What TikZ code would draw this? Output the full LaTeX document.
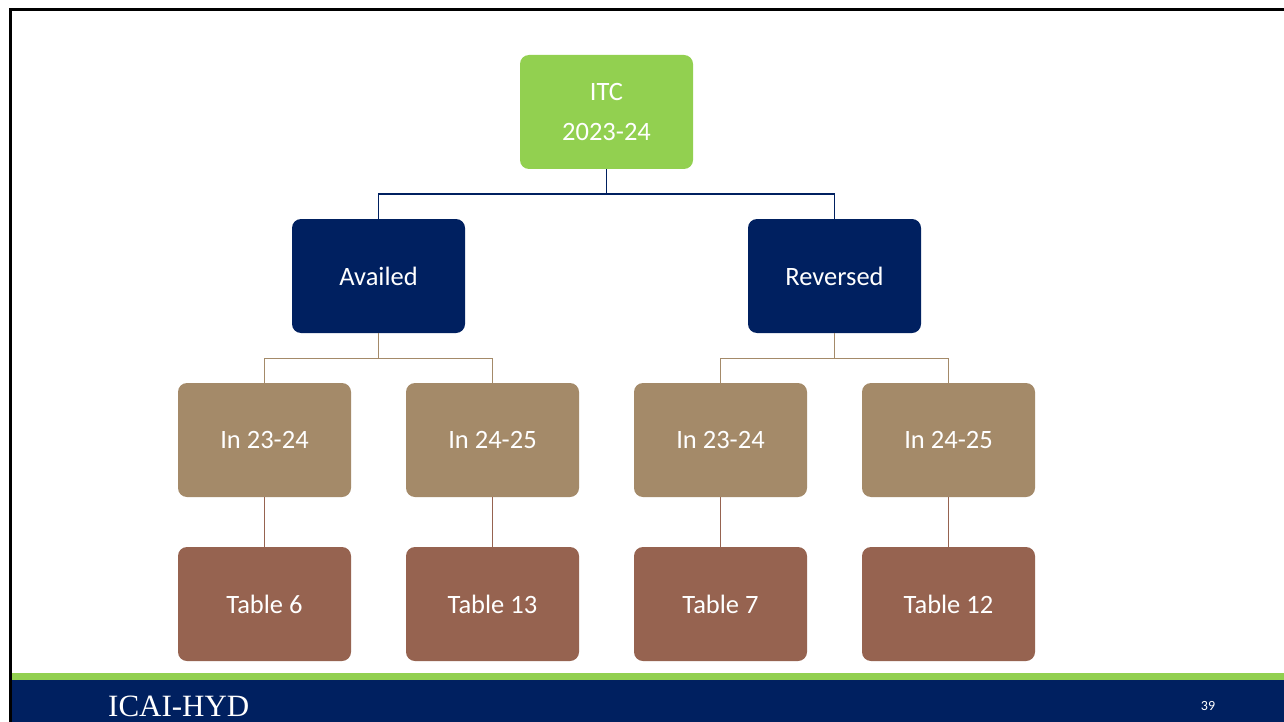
\documentclass[tikz,border=0pt]{standalone}
\usepackage{fontspec}
\setmainfont{Carlito}
\newfontfamily\footfont{Liberation Serif}
\usepackage{tikz}
\usetikzlibrary{positioning}

\definecolor{itcgreen}{HTML}{92D050}
\definecolor{darknavy}{HTML}{002060}
\definecolor{tanbox}{HTML}{A48A69}
\definecolor{brownbox}{HTML}{966350}

\begin{document}
\begin{tikzpicture}[x=1pt, y=-1pt,
    font=\fontsize{26.5}{40}\selectfont,
    box/.style={rounded corners=9pt, minimum width=173pt, minimum height=114pt,
        inner sep=0pt, text=white, align=center},
    link/.style={line width=1.4pt}]
    \useasboundingbox (0,0) rectangle (1284,722);
    \fill[white] (0,0) rectangle (1284,722);
    % footer band
    \fill[itcgreen] (12,673) rectangle (1284,680);
    \fill[darknavy] (12,680) rectangle (1284,722);
    \draw[line width=2.5pt] (10.5,722) -- (10.5,9.5) -- (1284,9.5);
    \node[anchor=base west, inner sep=0pt, text=white, font=\footfont\fontsize{31}{36}\selectfont] (footer) at (108,716) {ICAI-HYD};
    \node[anchor=base, text=white, font=\fontsize{14}{16}\selectfont] (pageno) at (1208,710) {39};

    % boxes
    \node[box, fill=itcgreen] (itc) at (606.5,112) {ITC\\2023-24};
    \node[box, fill=darknavy] (availed) at (378.5,276) {Availed};
    \node[box, fill=darknavy] (reversed) at (834.5,276) {Reversed};
    \node[box, fill=tanbox] (av23) at (264.5,440) {In 23-24};
    \node[box, fill=tanbox] (av24) at (492.5,440) {In 24-25};
    \node[box, fill=tanbox] (rv23) at (720.5,440) {In 23-24};
    \node[box, fill=tanbox] (rv24) at (948.5,440) {In 24-25};
    \node[box, fill=brownbox] (t6) at (264.5,604) {Table 6};
    \node[box, fill=brownbox] (t13) at (492.5,604) {Table 13};
    \node[box, fill=brownbox] (t7) at (720.5,604) {Table 7};
    \node[box, fill=brownbox] (t12) at (948.5,604) {Table 12};

    % connectors
    \draw[link, darknavy] (itc.south) -- ++(0,25) -| (availed.north);
    \draw[link, darknavy] (itc.south) -- ++(0,25) -| (reversed.north);
    \draw[link, tanbox] (availed.south) -- ++(0,25) -| (av23.north);
    \draw[link, tanbox] (availed.south) -- ++(0,25) -| (av24.north);
    \draw[link, tanbox] (reversed.south) -- ++(0,25) -| (rv23.north);
    \draw[link, tanbox] (reversed.south) -- ++(0,25) -| (rv24.north);
    \draw[link, brownbox] (av23) -- (t6);
    \draw[link, brownbox] (av24) -- (t13);
    \draw[link, brownbox] (rv23) -- (t7);
    \draw[link, brownbox] (rv24) -- (t12);
\end{tikzpicture}
\end{document}
